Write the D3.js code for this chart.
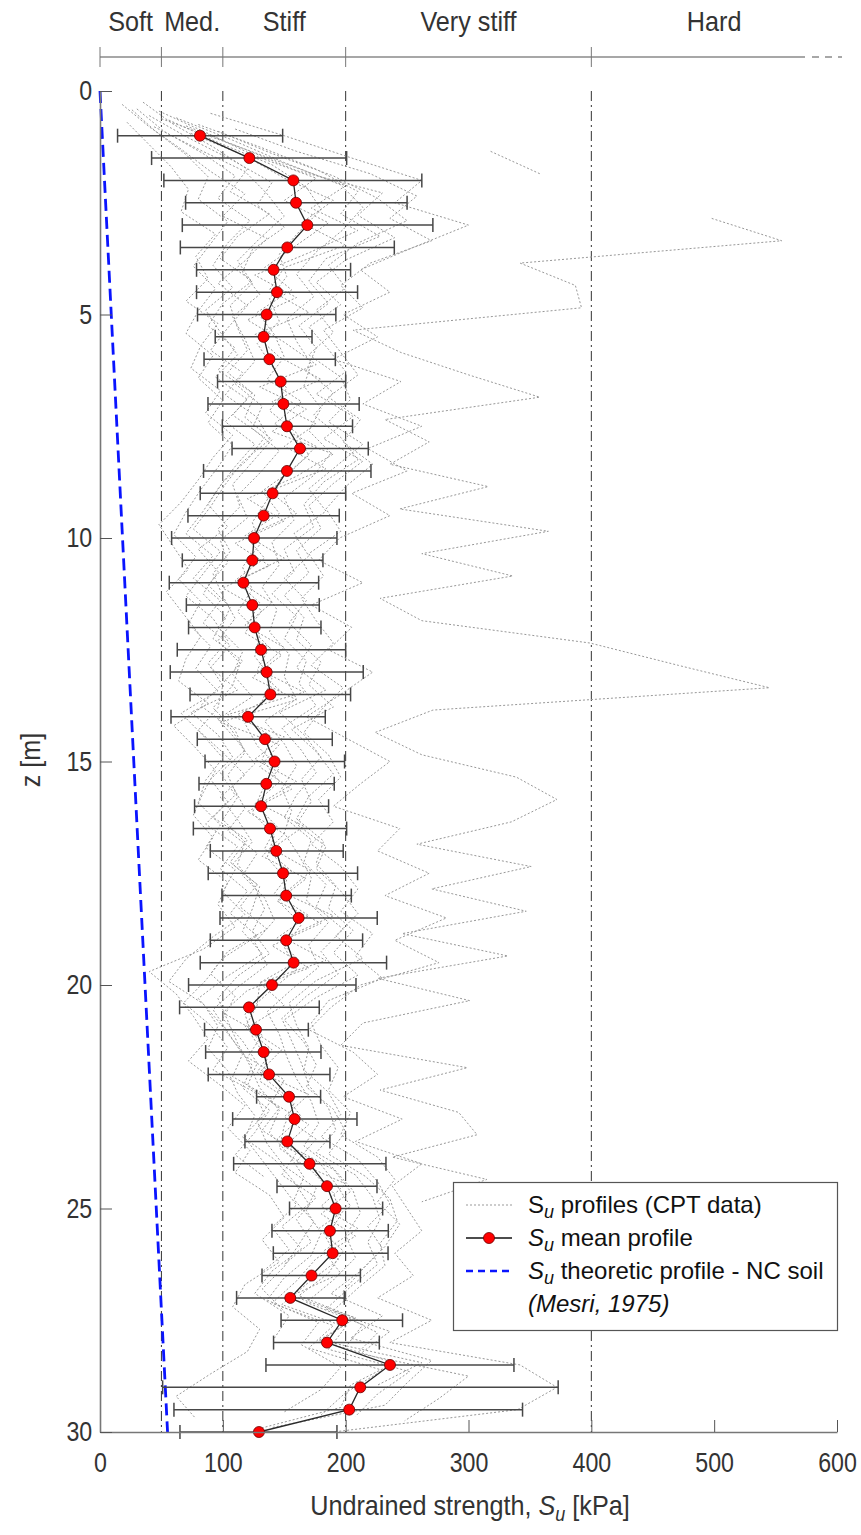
<!DOCTYPE html>
<html><head><meta charset="utf-8">
<script src="https://cdn.jsdelivr.net/npm/d3@7"></script>
<style>
body{margin:0;background:#fff;}
svg{display:block;}
</style></head><body>
<svg id="c" width="861" height="1535"></svg>
<script>
// ---------- data ----------
const classNames = ["Soft", "Med.", "Stiff", "Very stiff", "Hard"];
const classBounds = [0, 50, 100, 200, 400, 600];
const xTicks = [0, 100, 200, 300, 400, 500, 600];
const yTicks = [0, 5, 10, 15, 20, 25, 30];

const meanDepth = [1,1.5,2,2.5,3,3.5,4,4.5,5,5.5,6,6.5,7,7.5,8,8.5,9,9.5,10,10.5,
  11,11.5,12,12.5,13,13.5,14,14.5,15,15.5,16,16.5,17,17.5,18,18.5,19,19.5,20,20.5,
  21,21.5,22,22.5,23,23.5,24,24.5,25,25.5,26,26.5,27,27.5,28,28.5,29,29.5,30];
const meanSu = [81.4,121.6,157.4,159.6,168.8,152.5,141.3,144.1,135.7,133.2,
  137.9,147.1,149.3,152.2,162.8,152.2,140.5,133.2,125.4,124,
  116.7,124,125.9,131.1,135.7,138.7,120.5,134.3,142.1,135.4,
  131.1,138.4,143.5,149,151.6,161.7,151.6,157.6,140,121.3,
  127,133.2,137.6,153.9,158.4,152.5,170.6,184.8,191.8,187.2,
  189.4,172.2,154.9,197.2,184.8,236.1,211.9,202.9,129.4];
const lowSu = [14.3,42,52,69.7,67,65.4,78.6,78.6,79.4,93.8,
  84.7,95.7,87.9,99.6,107.5,84.3,81.6,71.6,58.3,67,
  56.4,70.3,72.1,62.9,57.2,73.3,57.8,79.2,85.5,80.6,
  77,76,89.8,88.1,99.3,97.7,89.8,81.6,72.1,64.8,
  85.1,86,88.1,127.5,108,118,108.8,144.1,154.3,140,
  141.1,131.9,111.2,147.4,141.3,135.1,51,60.2,65.1];
const highSu = [148.7,200.8,262,250,271,239.6,204,209.7,192,172.6,
  191.6,200,211,205.6,218.4,220.6,200,194.8,192.9,181.5,
  178,178.5,179.9,200,214.3,204,183.4,189.1,199.1,190.7,
  186.1,200.8,198,209.7,204.6,225.7,213.8,233.3,208.4,178.5,
  169.6,179.9,187.2,179.6,209.2,187.2,232.8,225.5,230.1,234.7,
  234.5,212,198.9,246.3,227.4,337,373,344,192.9];

const theoryDepth = [0, 30];
const theorySu = [0, 55];

// CPT profiles: start depth, step 0.5 m
const cptStep = 0.5;
const cptStart = [0.35,0.5,0.7,0.4,0.55,0.65,0.45,0.75,0.85,0.3,0.6,0.8,0.95,0.9,0.25,0.62,0.78,0.42];
const cpt1 = [null,null,318,358,null,498,555,342,387,392,
  206,245,300,358,232,268,236,316,244,365,
  262,336,228,262,399,471,545,271,224,262,
  339,372,335,258,351,270,347,246,332,226,
  301,214,196,299,228,292,307,238,315,262];
const cpt2 = [90,150,205,262,240,300,255,212,236,198,
  226,190,245,214,262,218,250,205,236,195,
  178,214,172,205,186,222,196,168,202,236,
  212,190,244,226,268,232,282,240,276,212,
  188,170,206,226,198,246,208,262,238,250,
  262,240,255,226,270,236,342,372,340,190];
const cpt3 = [22,40,58,72,66,94,78,88,70,96,
  82,74,98,86,108,92,80,66,48,60,
  72,54,68,82,70,64,88,60,78,94,
  84,76,92,80,104,96,110,84,40,62,
  76,88,72,96,118,104,122,110,138,150,
  132,146,118,108,130,120,90,62,78];
const cpt4 = [30,52,84,110,96,122,104,92,108,86,
  98,112,94,120,102,126,110,96,84,70,
  92,76,98,84,106,90,112,74,96,108,
  90,104,86,112,98,120,106,128,100,86,
  68,90,104,92,126,134,116,142,158,170,
  148,164,140,126,154,142];
const cpt5 = [40,72,108,140,128,150,124,116,130,108,
  118,126,110,132,124,146,130,112,120,98,
  104,88,106,98,116,108,124,96,112,126,
  108,118,104,128,116,134,142,126,136,112,
  92,104,116,108,140,128,136,150,176,168,
  180,172,150,136,178,164,196,180,150];
const cpt6 = [56,96,140,168,180,162,146,152,138,146,
  128,140,152,138,160,170,148,136,124,130,
  116,124,112,130,126,140,132,118,128,146,
  132,124,142,136,152,146,164,150,160,138,
  118,124,136,130,158,150,146,172,190,196,
  184,194,170,148,200,186,252,226,208];
const cpt7 = [48,88,126,176,150,186,160,134,156,128,
  142,150,136,164,142,176,158,132,146,118,
  134,110,130,120,138,128,148,112,140,132,
  146,126,144,134,156,142,170,144,162,130,
  128,118,140,128,150,164,144,178,192,204,
  178,198,186,162,208,178,240,204,196,126];
const cpt8 = [80,130,176,210,196,228,184,170,186,162,
  176,168,190,174,196,210,182,166,174,150,
  158,140,160,150,168,162,176,148,164,176,
  160,150,172,166,184,176,198,180,194,168,
  148,156,164,170,186,192,176,208,222,228,
  218,226,204,184,236,212,300,276,248];
const cpt9 = [110,160,220,258,236,270,220,196,214,182,
  196,210,186,212,198,222,200,184,196,170,
  182,164,176,190,172,198,180,166,186,196,
  178,190,172,196,210,196,222,208,230,186,
  172,180,194,186,204,196,226,240,226,244,
  232,214,198];
const cpt10 = [18,40,66,90,118,100,136,118,96,120,
  104,90,116,102,128,138,116,102,90,76,
  98,84,70,92,104,88,100,96,80,100,
  118,98,112,124,108,130,124,116,132,104,
  80,96,110,124,116,138,126,110,134];
const cpt11 = [62,108,150,196,214,198,176,160,174,152,
  160,172,166,180,170,188,174,150,158,140,
  146,132,144,138,154,150,160,134,150,160,
  148,156,150,162,172,168,186,170,178,156,
  136,146,152,160,172,178,166,190,206,212,
  200,208,190,168,214,200];
const cpt12 = [44,80,118,136,150,130,112,124,106,112,
  120,104,126,118,140,124,108,114,96,106,
  92,100,110,96,114,108,92,110,118,104,
  112,100,118,112,126,134,124,138,112,96,
  104,112,122,130,146,138,154,166,158,174,
  162,150,132,150];
const cpt13 = [74,118,150,190,164,200,150,138,170,126,
  146,180,140,176,150,184,138,160,120,150,
  112,140,118,150,130,166,104,150,126,160,
  130,166,140,172,150,190,150,184,130,150,
  120,148,130,170,150,176,160,200,180,210,
  182,196,156,208,180,262,226];
const cpt14 = [96,140,190,226,250,210,186,200,176,190,
  170,196,204,186,214,192,170,184,158,170,
  150,168,154,172,160,184,146,166,180,164,
  172,160,184,176,196,210,192,214,176,154,
  160,170,166,186,196,180,210,226,236,218,
  230,212,188,230,204,270,250,232,140];
const cpt15 = [35,60,92,120,106,138,112,98,124,100,
  88,110,96,124,108,134,120,100,88,104,
  80,96,84,102,92,116,100,82,106,118,
  98,110,92,120,106,128,114,136,104,90,
  110,100,116,128,120,146,132,160,148,176,
  160,172,150];
const cpt16 = [50,100,150,200,172,210,170,126,160,120,
  150,176,130,168,140,190,160,120,150,110,
  138,100,132,118,148,124,160,98,146,130,
  156,120,150,132,168,144,180,140,170,120,
  100,132,120,150,140,170,150,190,204,180,
  208,176,160,140,190,170,230,200,180];
const cpt17 = [70,116,160,230,210,240,200,176,196,170,
  186,200,176,206,182,214,190,170,180,160,
  170,150,166,160,180,170,190,156,176,190,
  170,160,182,176,192,186,206,190,210,176,
  150,166,176,168,190,200,186,216,236,242,
  228,232,210,190,226,208];
const cpt18 = [26,46,70,88,80,104,90,76,94,80,
  70,92,80,100,88,108,96,82,70,60,
  78,64,82,72,90,78,96,66,84,100,
  86,80,98,86,110,100,118,92,70,56,
  84,96,88,104,112,126,118,132,146,160,
  140,154,132];
const cptProfiles = [cpt1,cpt2,cpt3,cpt4,cpt5,cpt6,cpt7,cpt8,cpt9,cpt10,cpt11,cpt12,cpt13,cpt14,cpt15,cpt16,cpt17,cpt18];

// ---------- drawing ----------
const FONT = '"Liberation Sans",Arial,sans-serif';
const x = d3.scaleLinear().domain([0, 600]).range([100, 837]);
const y = d3.scaleLinear().domain([0, 30]).range([91, 1432]);
const svg = d3.select("#c");

// narrow text: horizontally condensed Liberation Sans
function ntext(parent, px, py, anchor, size, sx, rot) {
  const g = parent.append("g").attr("transform",
    `translate(${px},${py})` + (rot ? ` rotate(${rot})` : "") + ` scale(${sx},1)`);
  return g.append("text").attr("text-anchor", anchor)
    .style("font-family", FONT).style("font-size", size + "px").attr("fill", "#333");
}

// category bar at top
const gTop = svg.append("g");
gTop.append("line").attr("x1", x(0)).attr("x2", 805).attr("y1", 57).attr("y2", 57)
  .attr("stroke", "#8a8a8a").attr("stroke-width", 1.6);
gTop.append("line").attr("x1", 812).attr("x2", 842).attr("y1", 57).attr("y2", 57)
  .attr("stroke", "#8a8a8a").attr("stroke-width", 1.4).attr("stroke-dasharray", "7,6");
gTop.selectAll(".ct").data(classBounds.slice(0, 5)).join("line")
  .attr("x1", d => x(d)).attr("x2", d => x(d)).attr("y1", 47).attr("y2", 67)
  .attr("stroke", "#777").attr("stroke-width", 1);
classNames.forEach((nm, i) => {
  ntext(gTop, x((classBounds[i] + classBounds[i + 1]) / 2), 31, "middle", 28, 0.9).text(nm);
});

// dash-dot class boundaries
svg.append("g").selectAll("line").data(classBounds.slice(1, 5)).join("line")
  .attr("x1", d => x(d)).attr("x2", d => x(d)).attr("y1", y(0)).attr("y2", y(30))
  .attr("stroke", "#333").attr("stroke-width", 1).attr("stroke-dasharray", "10,4,2,4");

// CPT profiles
const line = d3.line().defined(d => d[1] != null).x(d => x(d[1])).y(d => y(d[0]));
svg.append("g").selectAll("path").data(cptProfiles.map((vals, k) =>
  vals.map((v, i) => [cptStart[k] + cptStep * i, v]))).join("path")
  .attr("d", line).attr("fill", "none").attr("stroke", "#989898")
  .attr("stroke-width", 1).attr("stroke-dasharray", "2,2");

// theoretical profile
svg.append("path").datum(theoryDepth.map((z, i) => [z, theorySu[i]]))
  .attr("d", line).attr("fill", "none").attr("stroke", "#0a14ff")
  .attr("stroke-width", 2.8).attr("stroke-dasharray", "12,6");

// error bars
const gE = svg.append("g").attr("stroke", "#474747").attr("stroke-width", 1.5);
meanDepth.forEach((z, i) => {
  gE.append("line").attr("x1", x(lowSu[i])).attr("x2", x(highSu[i])).attr("y1", y(z)).attr("y2", y(z));
  [lowSu[i], highSu[i]].forEach(v => gE.append("line").attr("x1", x(v)).attr("x2", x(v))
    .attr("y1", y(z) - 7).attr("y2", y(z) + 7));
});

// mean profile
svg.append("path").datum(meanDepth.map((z, i) => [z, meanSu[i]]))
  .attr("d", line).attr("fill", "none").attr("stroke", "#2a2a2a").attr("stroke-width", 1.3);
svg.append("g").selectAll("circle").data(meanDepth).join("circle")
  .attr("cx", (d, i) => x(meanSu[i])).attr("cy", d => y(d)).attr("r", 5.5)
  .attr("fill", "#ff0000").attr("stroke", "#6a0000").attr("stroke-width", 0.8);

// axes
const ax = svg.append("g").attr("transform", `translate(0,${y(30)})`)
  .call(d3.axisBottom(x).tickValues(xTicks).tickSize(-12).tickSizeOuter(0).tickPadding(21));
const ay = svg.append("g").attr("transform", `translate(${x(0)},0)`)
  .call(d3.axisLeft(y).tickValues(yTicks).tickSize(-12).tickSizeOuter(0).tickPadding(9));
[ax, ay].forEach(g => {
  g.select(".domain").attr("stroke", "#777").attr("stroke-width", 1.6);
  g.selectAll(".tick line").attr("stroke", "#555");
  g.selectAll(".tick text").style("font-family", FONT).style("font-size", "27px")
    .attr("fill", "#333").attr("transform", "scale(0.86,1)");
});
ax.selectAll(".tick text").attr("dy", "0.71em");

// axis titles
const xt = ntext(svg, 470, 1515, "middle", 28, 0.9);
xt.append("tspan").text("Undrained strength, ");
xt.append("tspan").style("font-style", "italic").text("S");
xt.append("tspan").style("font-style", "italic").style("font-size", "20px").attr("dy", 6).text("u");
xt.append("tspan").attr("dy", -6).text(" [kPa]");
ntext(svg, 40, 760, "middle", 28, 0.9, -90).text("z [m]");

// legend
const lg = svg.append("g");
lg.append("rect").attr("x", 453.5).attr("y", 1182.5).attr("width", 384).attr("height", 148)
  .attr("fill", "#fff").attr("stroke", "#555").attr("stroke-width", 1.2);
const rows = [1205, 1238, 1271];
lg.append("line").attr("x1", 466).attr("x2", 512).attr("y1", rows[0]).attr("y2", rows[0])
  .attr("stroke", "#999").attr("stroke-width", 1.2).attr("stroke-dasharray", "2,2");
lg.append("line").attr("x1", 466).attr("x2", 512).attr("y1", rows[1]).attr("y2", rows[1])
  .attr("stroke", "#111").attr("stroke-width", 1.6);
lg.append("circle").attr("cx", 489).attr("cy", rows[1]).attr("r", 5.5)
  .attr("fill", "#ff0000").attr("stroke", "#6a0000").attr("stroke-width", 0.8);
lg.append("line").attr("x1", 466).attr("x2", 512).attr("y1", rows[2]).attr("y2", rows[2])
  .attr("stroke", "#0a14ff").attr("stroke-width", 2.4).attr("stroke-dasharray", "7,5");
function legText(yy, italS, rest) {
  const t = lg.append("text").attr("x", 528).attr("y", yy + 8)
    .style("font-family", FONT).style("font-size", "24px").attr("fill", "#111");
  t.append("tspan").style("font-style", italS ? "italic" : "normal").text("S");
  t.append("tspan").style("font-style", "italic").style("font-size", "18px").attr("dy", 5).text("u");
  t.append("tspan").attr("dy", -5).text(rest);
}
legText(rows[0], false, " profiles (CPT data)");
legText(rows[1], true, " mean profile");
legText(rows[2], true, " theoretic profile - NC soil");
lg.append("text").attr("x", 528).attr("y", 1312).style("font-family", FONT)
  .style("font-size", "24px").style("font-style", "italic").attr("fill", "#111").text("(Mesri, 1975)");
</script>
</body></html>
